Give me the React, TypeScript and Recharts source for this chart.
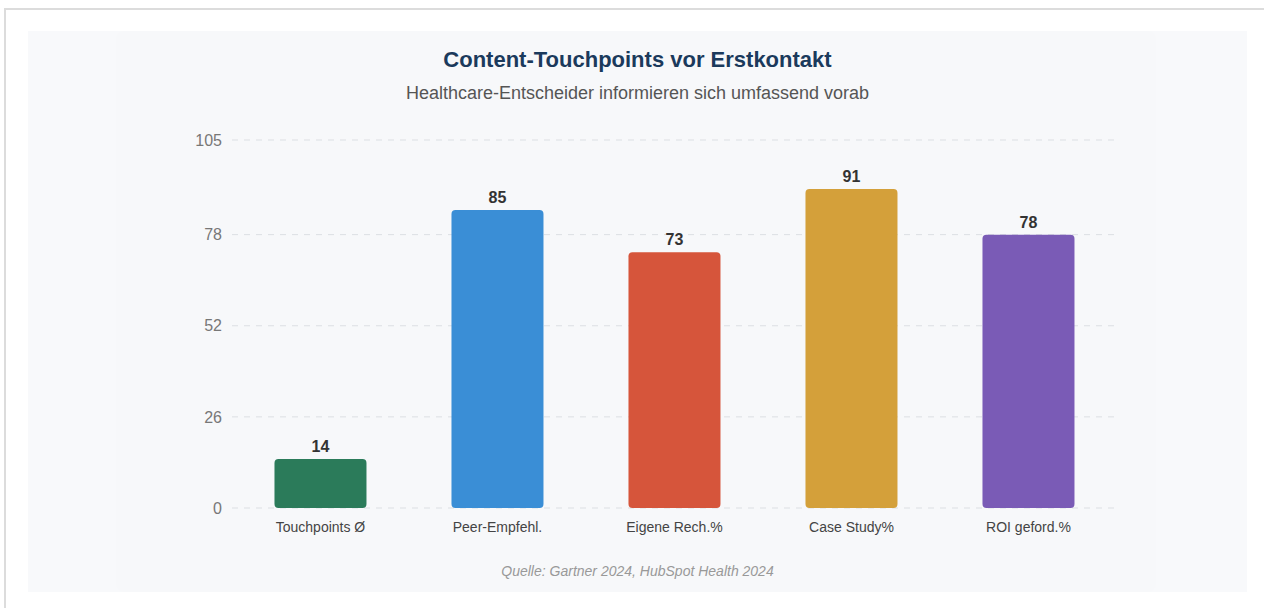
import { BarChart, Bar, XAxis, YAxis, CartesianGrid, Cell, LabelList } from "recharts";

// Werte
const categories = ["Touchpoints Ø", "Peer-Empfehl.", "Eigene Rech.%", "Case Study%", "ROI geford.%"];
const values = [14, 85, 73, 91, 78];
const barColors = ["#2b7b5a", "#3a8ed6", "#d6553b", "#d4a03a", "#7a5bb6"];
const yTicks = [0, 26, 52, 78, 105];

const data = categories.map((name, i) => ({ name, value: values[i] }));

const FONT = '"Liberation Sans", Arial, Helvetica, sans-serif';

export default function App() {
    return (
        <div style={{ position: "absolute", left: 0, top: 0, width: 1264, height: 608, overflow: "hidden", background: "#fff", fontFamily: FONT }}>
            {/* outer frame */}
            <div style={{ position: "absolute", left: 4, top: 8, width: 1300, height: 700, border: "2px solid #dcdcdc" }} />
            {/* panel */}
            <div style={{ position: "absolute", left: 28, top: 31, width: 1219, height: 561, background: "#f8f9fb" }} />
            <div style={{ position: "absolute", left: 116, top: 31, width: 1040, height: 561, background: "#f7f8fa", borderRadius: 8 }} />

            <div style={{ position: "absolute", left: 28, width: 1219, top: 47, lineHeight: "26px", textAlign: "center", fontSize: 22, fontWeight: 700, color: "#1b3a5c" }}>
                Content-Touchpoints vor Erstkontakt
            </div>
            <div style={{ position: "absolute", left: 28, width: 1219, top: 82, lineHeight: "22px", textAlign: "center", fontSize: 18, color: "#555" }}>
                Healthcare-Entscheider informieren sich umfassend vorab
            </div>
            <div style={{ position: "absolute", left: 28, width: 1219, top: 562, lineHeight: "18px", textAlign: "center", fontSize: 14, fontStyle: "italic", color: "#999" }}>
                Quelle: Gartner 2024, HubSpot Health 2024
            </div>

            <div style={{ position: "absolute", left: 0, top: 0 }}>
                <BarChart
                    width={1264}
                    height={608}
                    data={data}
                    margin={{ top: 140, right: 147, bottom: 70, left: 172 }}
                    barCategoryGap="24%"
                >
                    <CartesianGrid vertical={false} stroke="#dcdfe3" strokeDasharray="6 6" />
                    <XAxis
                        dataKey="name"
                        height={30}
                        axisLine={false}
                        tickLine={false}
                        tickMargin={8}
                        tick={{ fontSize: 14, fill: "#444", fontFamily: FONT }}
                        interval={0}
                    />
                    <YAxis
                        width={60}
                        domain={[0, 105]}
                        ticks={yTicks}
                        axisLine={false}
                        tickLine={false}
                        tickMargin={4}
                        tick={{ fontSize: 16, fill: "#777", fontFamily: FONT }}
                    />
                    <Bar dataKey="value" radius={4} isAnimationActive={false}>
                        {data.map((_, i) => (
                            <Cell key={`bar-${i}`} fill={barColors[i]} />
                        ))}
                        <LabelList
                            dataKey="value"
                            position="top"
                            offset={7}
                            style={{ fontSize: 16, fontWeight: 700, fill: "#333", fontFamily: FONT }}
                        />
                    </Bar>
                </BarChart>
            </div>
        </div>
    );
}
